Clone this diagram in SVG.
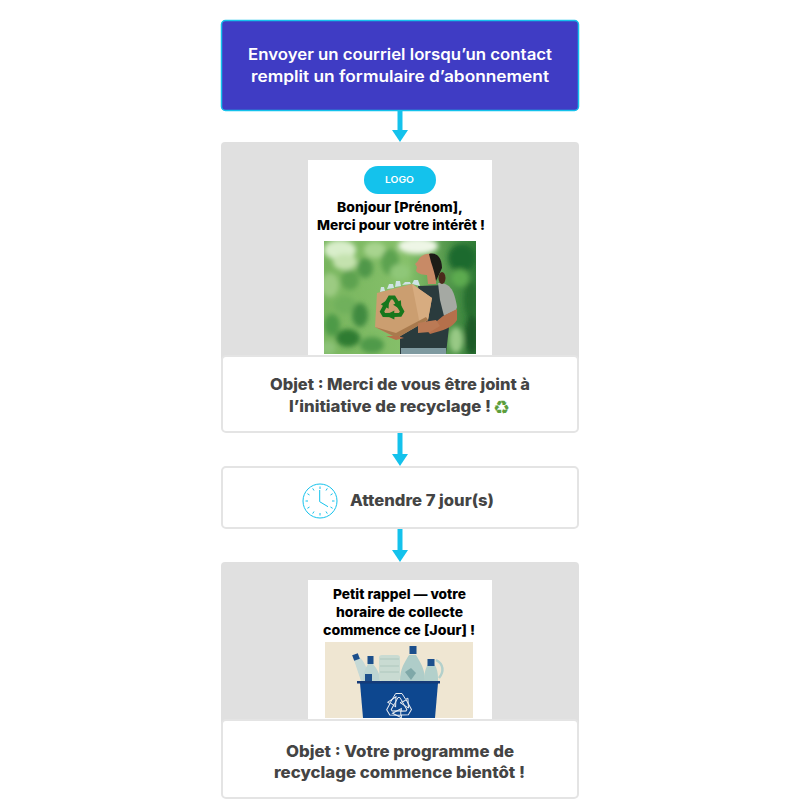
<svg xmlns="http://www.w3.org/2000/svg" width="800" height="800" viewBox="0 0 800 800">
<style>
text{font-family:Inter,"Liberation Sans",sans-serif}
.t{font-size:15.5px;font-weight:600;fill:#fff}
.h{font-size:13.5px;font-weight:800;fill:#000}
.o{font-size:16px;font-weight:800;fill:#444}
.g{fill:#e0e0e0}
.w{fill:#fff}
.b{fill:#fff;stroke:#e4e4e4;stroke-width:2}
.c{stroke:#14c2ec;stroke-width:5;fill:none}
.a{fill:#14c2ec}
.k{stroke:#14c2ec;stroke-width:1;fill:none}
</style>
<defs>
<clipPath id="c1"><rect x="324" y="241" width="152" height="113"/></clipPath>
<clipPath id="c2"><rect x="325" y="642" width="148" height="76"/></clipPath>
<filter id="bl" x="-20%" y="-20%" width="140%" height="140%"><feGaussianBlur stdDeviation="2.500"/></filter>
<filter id="bs" x="-20%" y="-20%" width="140%" height="140%"><feGaussianBlur stdDeviation="0.500"/></filter>
<linearGradient id="f" x1="0" y1="0" x2="1" y2="0"><stop offset="0" stop-color="#78b55e"/><stop offset=".55" stop-color="#86c06a"/><stop offset="1" stop-color="#2f7a36"/></linearGradient>
<path id="ra" d="M-8.900-3.100L-3.300-12.500H3L6.600-6.700L8.900-7.800L9.500 2L1.100-3.300L3.300-4.500L0.800-8.500H-1L-5.100-0.900Z"/>
</defs>

<g id="connectors">
<path class="c" d="M400 111V131"/><path class="a" d="M392 130H408L400 142Z"/>
<path class="c" d="M400 433V455"/><path class="a" d="M392 454H408L400 466Z"/>
<path class="c" d="M400 529V551"/><path class="a" d="M392 550H408L400 562Z"/>
</g>

<g id="trigger">
<rect x="221.500" y="20.500" width="357" height="90" rx="4" fill="#3f3cc4" stroke="#14c2ec" stroke-width="1.500"/>
<text class="t" x="248" y="60" textLength="304" lengthAdjust="spacingAndGlyphs">Envoyer un courriel lorsqu’un contact</text>
<text class="t" x="251" y="82" textLength="298" lengthAdjust="spacingAndGlyphs">remplit un formulaire d’abonnement</text>
</g>

<g id="email1">
<rect class="g" x="221" y="142" width="358" height="220" rx="4"/>
<rect class="w" x="308" y="160" width="184" height="198"/>
<rect class="a" x="364" y="166" width="72" height="28" rx="14"/>
<text x="385" y="183" font-size="9.500" font-weight="600" fill="#fff" textLength="29" lengthAdjust="spacingAndGlyphs">LOGO</text>
<text class="h" x="337" y="212" textLength="126" lengthAdjust="spacingAndGlyphs">Bonjour [Prénom],</text>
<text class="h" x="317" y="230" textLength="168" lengthAdjust="spacingAndGlyphs">Merci pour votre intérêt !</text>
<g clip-path="url(#c1)">
<rect x="324" y="241" width="152" height="113" fill="url(#f)"/>
<g filter="url(#bl)">
<ellipse cx="340" cy="250" rx="16" ry="10" fill="#d9eecb"/>
<ellipse cx="345" cy="262" rx="12" ry="8" fill="#c4e2ae"/>
<ellipse cx="418" cy="246" rx="20" ry="8" fill="#eef6e6"/>
<ellipse cx="375" cy="250" rx="11" ry="8" fill="#a8d48f"/>
<ellipse cx="330" cy="285" rx="9" ry="12" fill="#9ccb82"/>
<ellipse cx="350" cy="280" rx="9" ry="10" fill="#5da24f"/>
<ellipse cx="365" cy="268" rx="8" ry="10" fill="#4f9748"/>
<ellipse cx="345" cy="305" rx="11" ry="9" fill="#6fb05c"/>
<ellipse cx="360" cy="315" rx="8" ry="12" fill="#3f8a40"/>
<ellipse cx="332" cy="325" rx="8" ry="11" fill="#4d9a47"/>
<ellipse cx="348" cy="338" rx="12" ry="9" fill="#2e7c33"/>
<ellipse cx="372" cy="345" rx="12" ry="8" fill="#4f9a4a"/>
<ellipse cx="328" cy="348" rx="8" ry="7" fill="#8cc277"/>
<ellipse cx="390" cy="262" rx="9" ry="13" fill="#5ba24f"/>
<ellipse cx="400" cy="272" rx="10" ry="8" fill="#8fc778"/>
<ellipse cx="462" cy="258" rx="14" ry="14" fill="#1e6a2d"/>
<ellipse cx="460" cy="278" rx="9" ry="9" fill="#5dab50"/>
<ellipse cx="471" cy="300" rx="7" ry="18" fill="#256d2f"/>
<ellipse cx="472" cy="335" rx="7" ry="20" fill="#1c5a27"/>
<ellipse cx="456" cy="340" rx="7" ry="13" fill="#98c985"/>
</g>
<g filter="url(#bs)">
<path d="M418 286L447 285L452 300L446 354H400V335L420 300Z" fill="#2c3a3d"/>
<path d="M438 283C449 283 454 288 457 307L456 310L444 316L440 300Z" fill="#a5a9a3"/>
<path d="M443 316L457 309L457 320C452 328 444 330 430 334L420 322L437 321Z" fill="#b5704b"/>
<rect x="401" y="348" width="45" height="8" fill="#7f9aa0"/>
<path d="M432 254C425 253 420 256 418 261L415 264L417 267L416 271C418 274 424 275 427 275L428 284L436 284L436 260Z" fill="#c88a66"/>
<path d="M429 254C437 252 442 258 442 268L436 281C435 274 433 268 431 262Z" fill="#1f1a18"/>
<ellipse cx="442" cy="278" rx="3.500" ry="6" fill="#4b2a1a"/>
<path d="M380 292L381 287H384L385 291ZM387 289L389 284H393L394 288ZM395 287L396 281H400L401 286ZM402 285L405 282H410L411 284ZM412 284L414 280H418L420 286Z" fill="#cfe3e4"/>
<path d="M377 293L412 284L432 298L428 320L397 338L375 327Z" fill="#cb9e70"/>
<path d="M412 284L432 298L428 320L420 325Z" fill="#d7ac80"/>
<path d="M375 327L397 338L428 320L426 317L396 333Z" fill="#a97a4e"/>
<path d="M418 323L436 320L440 326L430 332L418 333Z" fill="#bb7a54"/>
<path d="M386 336L396 340L404 338L398 336Z" fill="#b5704b"/>
<g fill="#17771f" transform="translate(392 308)"><use href="#ra"/><use href="#ra" transform="rotate(120)"/><use href="#ra" transform="rotate(240)"/></g>
</g>
</g>
</g>

<g id="subject1">
<rect class="b" x="222" y="356" width="356" height="76" rx="4"/>
<text class="o" x="270" y="390" textLength="260" lengthAdjust="spacingAndGlyphs">Objet : Merci de vous être joint à</text>
<text class="o" x="289" y="412" textLength="202" lengthAdjust="spacingAndGlyphs">l’initiative de recyclage !</text>
<text x="493" y="414" font-size="19" font-weight="700" fill="#5c9e3c" style="font-family:'DejaVu Sans',sans-serif">♻</text>
</g>

<g id="wait">
<rect class="b" x="222" y="467" width="356" height="61" rx="4"/>
<circle class="k" cx="320" cy="501" r="17"/>
<path class="k" d="M319.700 490V501.700L328 506.700M320 486.500V489M320 513V515.500M305.500 501H308M332 501H334.500M312.700 488.400L314 490.500M326 511.500L327.300 513.600M307.400 493.700L309.500 495M330.500 507L332.600 508.300M327.300 488.400L326 490.500M314 511.500L312.700 513.600M332.600 493.700L330.500 495M309.500 507L307.400 508.300"/>
<text class="o" x="350" y="506" textLength="144" lengthAdjust="spacingAndGlyphs">Attendre 7 jour(s)</text>
</g>

<g id="email2">
<rect class="g" x="221" y="562" width="358" height="230" rx="4"/>
<rect class="w" x="308" y="580" width="184" height="142"/>
<text class="h" x="333" y="599" textLength="133" lengthAdjust="spacingAndGlyphs">Petit rappel — votre</text>
<text class="h" x="336" y="617" textLength="127" lengthAdjust="spacingAndGlyphs">horaire de collecte</text>
<text class="h" x="323" y="635" textLength="152" lengthAdjust="spacingAndGlyphs">commence ce [Jour] !</text>
<g clip-path="url(#c2)">
<rect x="325" y="642" width="148" height="76" fill="#efe6d2"/>
<g filter="url(#bs)">
<path d="M354 660L359 657C364 660 368 670 370 681H361Z" fill="#c5d9d6"/>
<rect x="353" y="654" width="6" height="6" transform="rotate(-20 356 657)" fill="#1d4f8c"/>
<path d="M368 664H373C376 668 380 672 380 681H363C363 672 366 668 368 664Z" fill="#bdd5d2"/><rect x="367.500" y="656" width="6" height="8" fill="#1d4f8c"/>
<rect x="379" y="655" width="21" height="26" rx="3" fill="#c9dbd2"/>
<path d="M380 659H399M380 666H399M380 672H399" stroke="#aec7bd" stroke-width="1"/>
<path d="M409 655H416C420 662 425 668 425 681H400C400 668 405 662 409 655Z" fill="#afcdc9"/><rect x="409.500" y="646" width="7" height="8" fill="#1d4f8c"/>
<path d="M405 672L411 668L416 673L411 680Z" fill="#7fa8a8"/>
<path d="M428 664H434C437 668 438 672 438 681H424C424 672 426 668 428 664Z" fill="#b3d0cb"/><rect x="427.500" y="659" width="7" height="7" fill="#1d4f8c"/>
<path d="M436 660C444 664 444 672 439 678" fill="none" stroke="#b3d0cb" stroke-width="2.500"/>
<rect x="365" y="674" width="7" height="7" fill="#1d4f8c"/>
<path d="M360 683H438L435 718H363Z" fill="#11468f"/>
<rect x="357" y="681" width="83" height="2.500" fill="#123a78"/>
<g fill="none" stroke="#e8eef2" stroke-width="1" transform="translate(399 706)"><use href="#ra"/><use href="#ra" transform="rotate(120)"/><use href="#ra" transform="rotate(240)"/></g>
</g>
</g>
</g>

<g id="subject2">
<rect class="b" x="222" y="720" width="356" height="78" rx="4"/>
<text class="o" x="286" y="757" textLength="228" lengthAdjust="spacingAndGlyphs">Objet : Votre programme de</text>
<text class="o" x="274" y="778" textLength="251" lengthAdjust="spacingAndGlyphs">recyclage commence bientôt !</text>
</g>
</svg>
